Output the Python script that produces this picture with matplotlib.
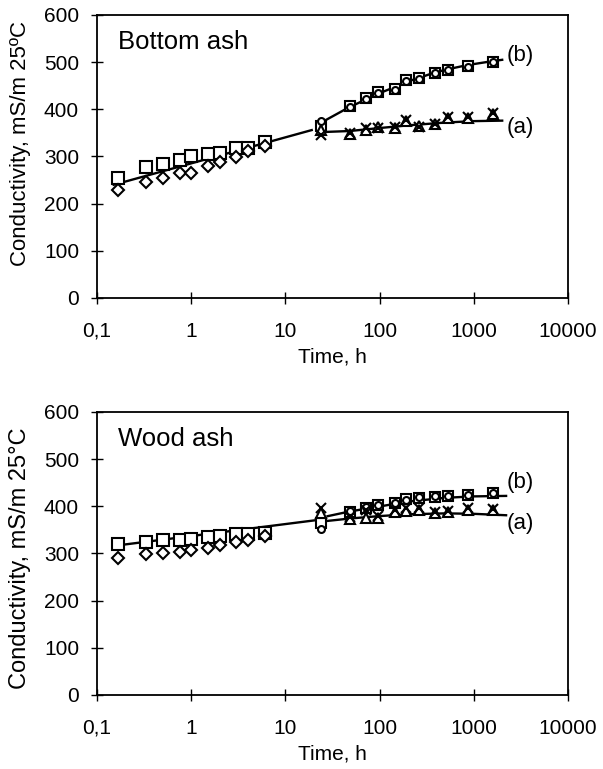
import matplotlib
matplotlib.use('Agg')
import matplotlib.pyplot as plt
import matplotlib as mpl

mpl.rcParams['font.family'] = ['Liberation Sans', 'DejaVu Sans']
mpl.rcParams['font.size'] = 15

# sampling times, h
t_early = [0.167, 0.33, 0.5, 0.75, 1, 1.5, 2, 3, 4, 6]
t_late = [24, 48, 72, 96, 144, 192, 264, 384, 528, 864, 1600]

# Bottom ash
bot_b_early = [255, 278, 284, 292, 301, 305, 307, 317, 319, 331]
bot_a_early = [229, 245, 254, 265, 266, 280, 289, 299, 312, 322]
bot_b_late1 = [365, 406, 423, 436, 443, 462, 466, 477, 484, 491, 501]
bot_b_late2 = [376, 404, 421, 435, 442, 461, 464, 476, 483, 490, 500]
bot_a_late1 = [356, 347, 357, 362, 360, 376, 365, 369, 382, 382, 390]
bot_a_late2 = [345, 350, 360, 361, 362, 378, 363, 368, 383, 383, 392]
bot_fit_early_t = [0.15, 19]
bot_fit_early = [240, 356]
bot_fit_b_t = [24, 48, 72, 96, 144, 192, 264, 384, 528, 864, 1560, 2000]
bot_fit_b = [372, 405, 421, 433, 447, 458, 467, 478, 485, 494, 502, 505]
bot_fit_a_t = [26, 48, 96, 200, 500, 1000, 2000]
bot_fit_a = [352, 354, 360, 366, 372, 375, 376]

# Wood ash
wood_b_early = [321, 324, 328, 328, 331, 335, 337, 342, 342, 344]
wood_a_early = [291, 298, 301, 303, 307, 312, 317, 324, 328, 337]
wood_b_late1 = [365, 388, 397, 402, 407, 416, 418, 420, 421, 424, 429]
wood_b_late2 = [351, 390, 398, 403, 408, 414, 419, 421, 422, 423, 428]
wood_a_late1 = [386, 372, 376, 376, 388, 390, 392, 386, 388, 393, 393]
wood_a_late2 = [397, 378, 393, 380, 392, 397, 397, 387, 390, 397, 395]
wood_fit_early_t = [0.15, 22]
wood_fit_early = [316, 371]
wood_fit_b_t = [28, 48, 96, 200, 500, 1000, 2200]
wood_fit_b = [379, 389, 399, 410, 418, 421, 422]
wood_fit_a_t = [28, 48, 96, 200, 500, 1000, 2200]
wood_fit_a = [369, 374, 379, 383, 385, 384, 381]

x_ticks = [0.1, 1, 10, 100, 1000, 10000]
x_ticklabels = ['0,1', '1', '10', '100', '1000', '10000']
y_ticks = [0, 100, 200, 300, 400, 500, 600]

mk = dict(mfc='white', mec='black', mew=1.5, ls='none')


def panel(ax, title, ylab, ylab_size, ylab_y, b_e, a_e, b_l1, b_l2, a_l1, a_l2,
          fe_t, fe, fb_t, fb, fa_t, fa, lab_b, lab_a):
    ax.plot(fe_t, fe, color='black', lw=1.7, zorder=2)
    ax.plot(fb_t, fb, color='black', lw=1.7, zorder=2)
    ax.plot(fa_t, fa, color='black', lw=1.7, zorder=2)
    ax.plot(t_early, b_e, marker='s', ms=8, zorder=3, **mk)
    ax.plot(t_early, a_e, marker='D', ms=6, zorder=3, **mk)
    ax.plot(t_late, b_l1, marker='s', ms=7, zorder=3, **mk)
    ax.plot(t_late, b_l2, marker='o', ms=5, zorder=4, **mk)
    ax.plot(t_late, a_l1, marker='^', ms=7, zorder=3, **mk)
    ax.plot(t_late, a_l2, marker='x', ms=7, zorder=4, **mk)

    ax.set_xscale('log')
    ax.set_xlim(0.1, 10000)
    ax.set_ylim(0, 600)
    ax.set_xticks(x_ticks)
    ax.set_xticklabels(x_ticklabels)
    ax.minorticks_off()
    ax.set_yticks(y_ticks)
    ax.tick_params(direction='inout', length=8, width=1)
    ax.tick_params(axis='x', pad=13)
    ax.tick_params(axis='y', pad=9)
    for s in ax.spines.values():
        s.set_linewidth(1.3)
    ax.set_xlabel('Time, h')
    ax.xaxis.set_label_coords(0.5, -0.175)
    ax.set_ylabel(ylab, fontsize=ylab_size)
    ax.yaxis.set_label_coords(-0.14, ylab_y)
    ax.text(0.045, 0.905, title, transform=ax.transAxes, fontsize=18.5,
            va='center', ha='left')
    ax.text(2250, lab_b, '(b)', va='center', ha='left', fontsize=16)
    ax.text(2250, lab_a, '(a)', va='center', ha='left', fontsize=16)


fig = plt.figure(figsize=(6.03, 7.69), dpi=100)
ax1 = fig.add_axes([0.161, 0.6125, 0.781, 0.368])
ax2 = fig.add_axes([0.161, 0.0963, 0.781, 0.368])

panel(ax1, 'Bottom ash', 'Conductivity, mS/m 25ºC', 16, 0.546,
      bot_b_early, bot_a_early, bot_b_late1, bot_b_late2,
      bot_a_late1, bot_a_late2,
      bot_fit_early_t, bot_fit_early, bot_fit_b_t, bot_fit_b,
      bot_fit_a_t, bot_fit_a, 515, 362)
panel(ax2, 'Wood ash', 'Conductivity, mS/m 25°C', 17, 0.484,
      wood_b_early, wood_a_early, wood_b_late1, wood_b_late2,
      wood_a_late1, wood_a_late2,
      wood_fit_early_t, wood_fit_early, wood_fit_b_t, wood_fit_b,
      wood_fit_a_t, wood_fit_a, 451, 364)

plt.savefig('out.png', dpi=100)
